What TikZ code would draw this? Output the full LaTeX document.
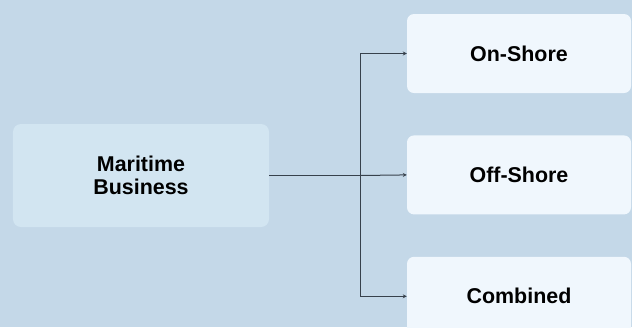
\documentclass[tikz,border=0pt]{standalone}
\usepackage{fontspec}
\setmainfont{Liberation Sans}
\usepackage{tikz}
\usetikzlibrary{arrows.meta}
\usetikzlibrary{calc}
\usetikzlibrary{positioning}
\definecolor{bgblue}{HTML}{C4D8E8}
\definecolor{srcblue}{HTML}{D2E5F1}
\definecolor{leafblue}{HTML}{F0F7FD}
\definecolor{wire}{HTML}{37414C}
\tikzset{
    arrow/.style={-{Stealth[length=4bp,width=4bp]}, draw=wire, line width=1bp},
    srcbox/.style = {
      minimum width=256bp,
      minimum height=103bp,
      rounded corners=8bp,
      rectangle,
      fill=srcblue,
      align=center,
      font=\fontsize{21.5}{23.5}\selectfont\bfseries
    },
    leafbox/.style = {
      minimum width=224bp,
      minimum height=79bp,
      rounded corners=7bp,
      rectangle,
      fill=leafblue,
      font=\fontsize{21.5}{23.5}\selectfont\bfseries
    },
}

\begin{document}
\begin{tikzpicture}[x=1bp, y=-1bp, node distance=42bp]
      \fill[bgblue] (0,0) rectangle (632,327);
      \clip (0,0) rectangle (632,327);

      \node[srcbox] (business) at (141,175.5) {Maritime\\Business};
      \node[leafbox] (onshore) at (519,53.5) {On-Shore};
      \node[leafbox, below=of onshore] (offshore) {Off-Shore};
      \node[leafbox, below=of offshore] (combined) {Combined};

      \coordinate (split) at ($(business.east)+(91bp,0)$);

      \draw[draw=wire, line width=1bp] (business.east) -- (split);
      \draw[arrow] (split) |- (onshore.west);
      \draw[arrow] (split) -- (offshore.west);
      \draw[arrow] (split) |- (combined.west);
\end{tikzpicture}
\end{document}
